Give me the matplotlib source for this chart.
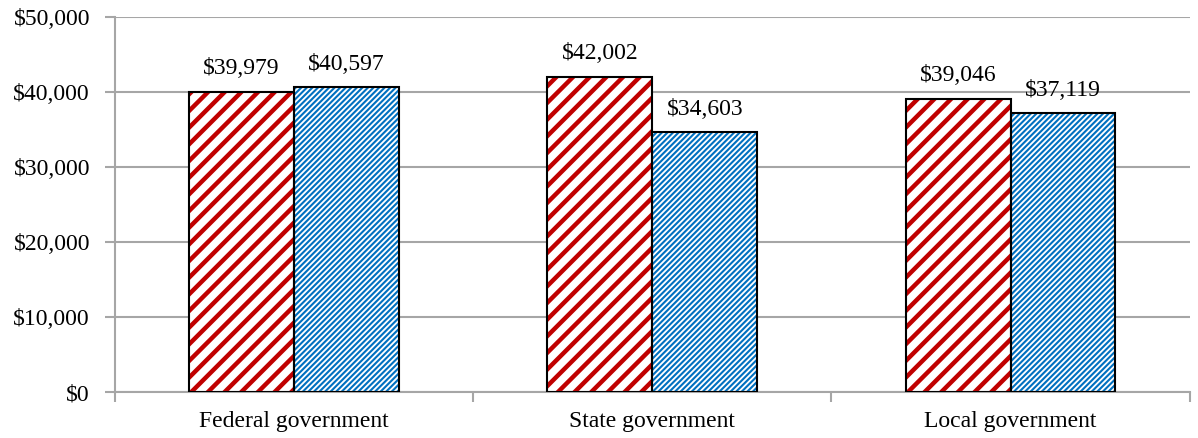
import matplotlib
matplotlib.use("Agg")
import matplotlib.pyplot as plt
import numpy as np

categories = ["Federal government", "State government", "Local government"]
series_a = [39979, 42002, 39046]
series_b = [40597, 34603, 37119]
yticks = [0, 10000, 20000, 30000, 40000, 50000]
ytick_labels = ["$0", "$10,000", "$20,000", "$30,000", "$40,000", "$50,000"]

plt.rcParams["font.family"] = ["Liberation Serif", "DejaVu Serif"]
plt.rcParams["font.size"] = 17

GRID = "#a6a6a6"
RED = "#c00000"
BLUE = "#0070c0"

fig = plt.figure(figsize=(11.98, 4.38), dpi=100)
ax = fig.add_axes([0.096, 0.105, 0.897, 0.857])

x = np.arange(len(categories))
w = 0.293


def hatched_bars(xpos, vals, color, hatch, hlw):
    with plt.rc_context({"hatch.linewidth": hlw}):
        bars = ax.bar(xpos, vals, width=w, facecolor="white", edgecolor=color,
                      linewidth=0, hatch=hatch, zorder=2)
        for b in bars:
            if hasattr(b, "set_hatch_linewidth"):
                b.set_hatch_linewidth(hlw)
    ax.bar(xpos, vals, width=w, fill=False, edgecolor="black", linewidth=1.5, zorder=3)
    return bars


hatched_bars(x - w / 2, series_a, RED, "//", 3.2)
hatched_bars(x + w / 2, series_b, BLUE, "//////", 1.5)

for xs, vals in ((x - w / 2, series_a), (x + w / 2, series_b)):
    for xi, v in zip(xs, vals):
        ax.annotate(f"${v:,}", (xi, v), xytext=(0, 9), textcoords="offset points",
                    ha="center", va="bottom", fontsize=17)

ax.set_xlim(-0.5, len(categories) - 0.5)
ax.set_ylim(0, 50000)
ax.set_yticks(yticks)
ax.set_yticklabels(ytick_labels)
ax.yaxis.grid(True, color=GRID, linewidth=1.5, zorder=0)
ax.set_axisbelow(True)

ax.set_xticks(x)
ax.set_xticklabels(categories)
ax.tick_params(axis="x", which="major", length=0, pad=14)
ax.set_xticks(np.arange(len(categories) + 1) - 0.5, minor=True)
ax.tick_params(axis="x", which="minor", length=7, width=1.5, color=GRID, direction="out")
ax.tick_params(axis="y", length=7, width=1.5, color=GRID, direction="out", pad=11)

for s in ("top", "right"):
    ax.spines[s].set_visible(False)
for s in ("left", "bottom"):
    ax.spines[s].set_color(GRID)
    ax.spines[s].set_linewidth(1.5)

fig.savefig("out.png", dpi=100)
